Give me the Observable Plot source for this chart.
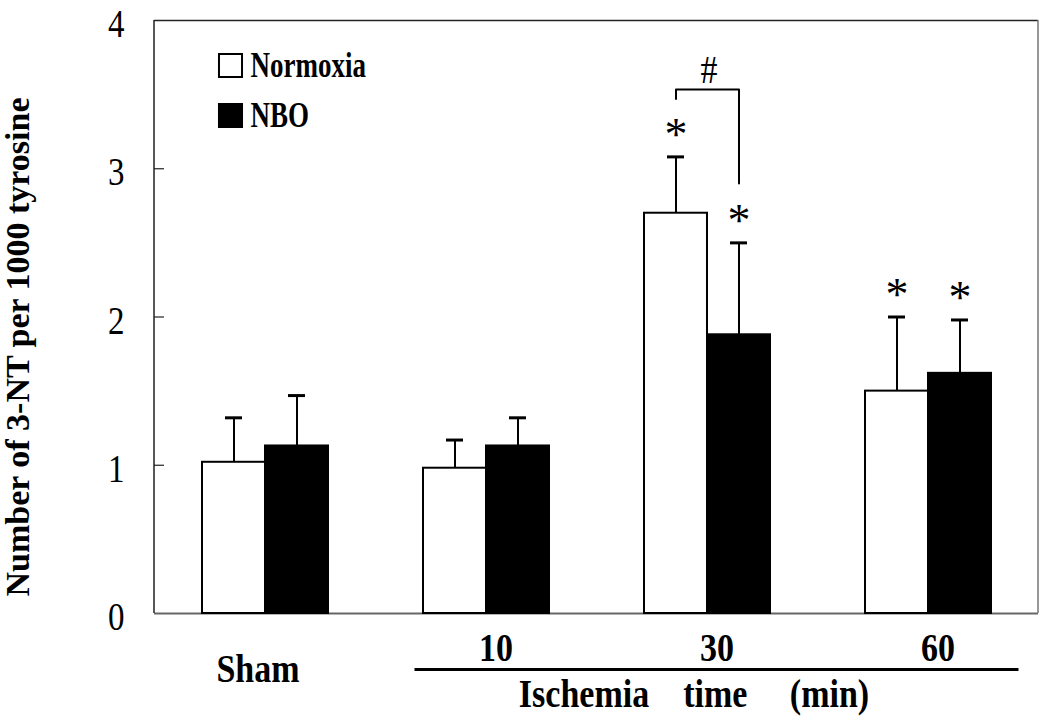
<!DOCTYPE html>
<html>
<head>
<meta charset="utf-8">
<script src="https://cdn.jsdelivr.net/npm/d3@7"></script>
<script src="https://cdn.jsdelivr.net/npm/@observablehq/plot@0.6"></script>
<style>
  html, body { margin: 0; padding: 0; background: #fff; }
  #chart svg { display: block; }
</style>
</head>
<body>
<div id="chart"></div>
<script>
// ---------- data ----------
const groups = ["Sham", "10", "30", "60"];
const series = ["Normoxia", "NBO"];
const normoxiaMean = [1.02, 0.98, 2.70, 1.50];
const normoxiaSD   = [0.30, 0.19, 0.38, 0.50];
const nboMean      = [1.13, 1.13, 1.88, 1.62];
const nboSD        = [0.34, 0.19, 0.62, 0.36];
const normoxiaSig  = ["", "", "*", "*"];
const nboSig       = ["", "", "*", "*"];
const yTicks = [0, 1, 2, 3, 4];
const yLabel = "Number of 3-NT per 1000 tyrosine";
const xTitle = "Ischemia\u00a0\u00a0\u00a0\u00a0time\u00a0\u00a0\u00a0\u00a0\u00a0(min)";
const bracketGroup = "30";
const bracketLabel = "#";
const bracketSeries = ["Normoxia", "Normoxia", "NBO", "NBO"];
const bracketY      = [3.47, 3.535, 3.535, 2.90];

// ---------- derived tables ----------
const rows = groups.flatMap((g, i) => [
  {group: g, series: series[0], mean: normoxiaMean[i], sd: normoxiaSD[i], sig: normoxiaSig[i]},
  {group: g, series: series[1], mean: nboMean[i], sd: nboSD[i], sig: nboSig[i]}
]);
const bracket = bracketSeries.map((s, i) => ({series: s, y: bracketY[i]}));

// ---------- layout ----------
const W = 1050, H = 721;
const mL = 154, mR = 12, mT = 20, mB = 108;
const facetW = (W - mL - mR) / groups.length;
const serif = "'Liberation Serif', 'Times New Roman', serif";
const first = groups[0], last = groups[groups.length - 1];

const marks = [
  // frame: top & bottom (repeated per facet, contiguous), left & right edges
  Plot.ruleY([yTicks[yTicks.length - 1]], {stroke: "#222", strokeWidth: 1.5}),
  Plot.ruleY([yTicks[0]], {stroke: "#666", strokeWidth: 2}),
  Plot.barY([first], {fx: d => d, y1: yTicks[0], y2: yTicks[yTicks.length - 1], insetLeft: -0.75, insetRight: facetW - 0.75, fill: "#222"}),
  Plot.barY([last], {fx: d => d, y1: yTicks[0], y2: yTicks[yTicks.length - 1], insetLeft: facetW - 0.75, insetRight: -0.75, fill: "#777"}),
  // inward tick marks
  Plot.tickY(yTicks.slice(1, -1), {fx: () => first, y: d => d, insetRight: facetW - 10, stroke: "#222", strokeWidth: 1.2}),
  // y tick labels
  Plot.axisY({ticks: yTicks, tickSize: 0, tickPadding: 30, tickFormat: d => String(d), fontSize: 33, dy: 4, label: null}),
  // y label
  Plot.text([yLabel], {fx: () => first, frameAnchor: "left", dx: -136, dy: 30, rotate: -90,
    textAnchor: "middle", lineAnchor: "middle", fontSize: 34, fontWeight: "bold"}),
  // error bars
  Plot.ruleX(rows, {fx: "group", x: "series", y1: "mean", y2: d => d.mean + d.sd, stroke: "#000", strokeWidth: 2}),
  Plot.tickY(rows, {fx: "group", x: "series", y: d => d.mean + d.sd, insetLeft: 23, insetRight: 23, stroke: "#000", strokeWidth: 3}),
  // bars
  Plot.barY(rows, {fx: "group", x: "series", y: "mean", fill: "series", stroke: "#000", strokeWidth: 2}),
  // significance stars
  Plot.text(rows, {fx: "group", x: "series", y: d => d.mean + d.sd, text: "sig", dy: -22, fontSize: 46, lineAnchor: "middle"}),
  // bracket and #
  Plot.line(bracket, {fx: () => bracketGroup, x: "series", y: "y", stroke: "#000", strokeWidth: 2}),
  Plot.text([bracketLabel], {fx: () => bracketGroup, y: () => Math.max(...bracketY), dx: 2, dy: -19,
    fontSize: 34, lineAnchor: "middle", ariaDescription: "stretch-hash"}),
  // legend
  ...series.map((s, i) => Plot.dot([s], {fx: () => first, frameAnchor: "top-left", dx: 76, dy: 45 + 50 * i,
    symbol: "square", r: 13, fill: d => d, stroke: "#000", strokeWidth: 2})),
  ...series.map((s, i) => Plot.text([s], {fx: () => first, frameAnchor: "top-left", dx: 96, dy: 45 + 50 * i,
    text: d => d, textAnchor: "start", lineAnchor: "middle", fontSize: 27, fontWeight: "bold",
    ariaDescription: "stretch-legend"})),
  // category labels under the axis
  Plot.text([first], {fx: d => d, text: d => d, frameAnchor: "bottom", dx: -7, dy: 55,
    lineAnchor: "middle", textAnchor: "middle", fontSize: 34, fontWeight: "bold", ariaDescription: "stretch"}),
  Plot.text(groups.slice(1), {fx: d => d, text: d => d, frameAnchor: "bottom", dx: 10, dy: 34,
    lineAnchor: "middle", textAnchor: "middle", fontSize: 34, fontWeight: "bold", ariaDescription: "stretch"}),
  // underline spanning the ischemia groups
  Plot.ruleY([yTicks[0]], {fx: () => groups[1], dy: 56, insetLeft: 39.5, stroke: "#000", strokeWidth: 3}),
  Plot.ruleY([yTicks[0]], {fx: () => groups[2], dy: 56, stroke: "#000", strokeWidth: 3}),
  Plot.ruleY([yTicks[0]], {fx: () => groups[3], dy: 56, insetRight: 19.5, stroke: "#000", strokeWidth: 3}),
  Plot.text([xTitle], {fx: () => groups[2], frameAnchor: "bottom", dx: -13, dy: 80,
    lineAnchor: "middle", textAnchor: "middle", fontSize: 34, fontWeight: "bold", ariaDescription: "stretch"})
];

const chart = Plot.plot({
  width: W, height: H,
  marginLeft: mL, marginRight: mR, marginTop: mT, marginBottom: mB,
  fx: {domain: groups, padding: 0, axis: null},
  x: {domain: series, paddingInner: 0, paddingOuter: 0.727, axis: null},
  y: {domain: [yTicks[0], yTicks[yTicks.length - 1]]},
  color: {domain: series, range: ["#ffffff", "#000000"]},
  style: {fontFamily: serif, background: "#fff", color: "#000", overflow: "visible"},
  marks
});

// condense labels slightly (taller than wide, as in the reference)
const stretch = (sel, s) => chart.querySelectorAll(sel).forEach(t => {
  const tr = t.getAttribute("transform") || "";
  t.setAttribute("transform", (tr + ` scale(1,${s})`).trim());
});
stretch('g[aria-description="stretch"] text', 1.2);
stretch('g[aria-description="stretch-legend"] text', 1.3);
stretch('g[aria-description="stretch-hash"] text', 1.15);
stretch('g[aria-label="y-axis tick label"] text', 1.2);

document.getElementById("chart").appendChild(chart);
</script>
</body>
</html>
